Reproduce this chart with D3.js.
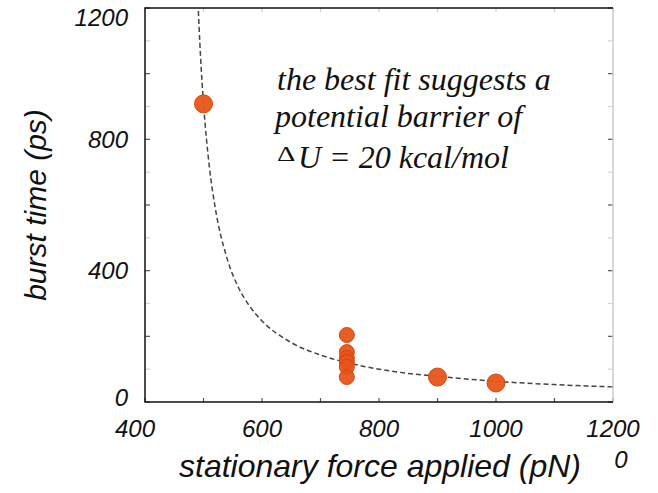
<!DOCTYPE html>
<html>
<head>
<meta charset="utf-8">
<script src="https://cdn.jsdelivr.net/npm/d3@7"></script>
<style>
  body { margin: 0; background: #fff; }
</style>
</head>
<body>
<script>
// measured points (pN, ps)
var forceVals = [500, 745, 745, 745, 745, 745, 745, 900, 1000];
var burstVals = [908, 204, 152, 134, 122, 107, 76, 76, 58];

// best fit curve
var fitForce = [490, 495, 500, 510, 520, 540, 560, 580, 600, 650, 700, 750, 800, 850, 900, 1000, 1100, 1200];
var fitBurst = [1240, 1050, 909, 717, 592, 439, 348, 289, 247, 181, 143, 118, 100, 87, 78, 63, 53, 46];

var xTickVals = [400, 500, 600, 700, 800, 900, 1000, 1100, 1200];
var xLabelVals = [400, 600, 800, 1000, 1200];
var yTickVals = [0, 100, 200, 300, 400, 500, 600, 700, 800, 900, 1000, 1100, 1200];
var yLabelVals = [0, 400, 800, 1200];

var width = 658, height = 493;
var pLeft = 145, pRight = 613, pTop = 8, pBottom = 402;
var sans = "'Liberation Sans', Arial, Helvetica, sans-serif";
var serif = "'Liberation Serif', 'Times New Roman', serif";

var svg = d3.select("body").append("svg").attr("width", width).attr("height", height);

var x = d3.scaleLinear().domain([400, 1200]).range([pLeft, pRight]);
var y = d3.scaleLinear().domain([0, 1200]).range([pBottom, pTop]);

// clip for the fit line
svg.append("clipPath").attr("id", "plotclip")
   .append("rect").attr("x", pLeft).attr("y", pTop).attr("width", pRight - pLeft).attr("height", pBottom - pTop);

// ticks (inward) on all four sides
var isMajorY = function(v) { return v % 200 === 0; };
yTickVals.forEach(function(v) {
    var col = isMajorY(v) ? "#555" : "#d4d4d4";
    svg.append("line").attr("x1", pLeft).attr("x2", pLeft + 5).attr("y1", y(v)).attr("y2", y(v))
       .style("stroke", col).style("stroke-width", 1.2);
    svg.append("line").attr("x1", pRight - 5).attr("x2", pRight).attr("y1", y(v)).attr("y2", y(v))
       .style("stroke", col).style("stroke-width", 1.2);
});
xTickVals.forEach(function(v) {
    svg.append("line").attr("x1", x(v)).attr("x2", x(v)).attr("y1", pBottom).attr("y2", pBottom - 4)
       .style("stroke", "#555").style("stroke-width", 1.2);
    svg.append("line").attr("x1", x(v)).attr("x2", x(v)).attr("y1", pTop).attr("y2", pTop + 4)
       .style("stroke", "#ccc").style("stroke-width", 1.2);
});

// frame
svg.append("line").attr("x1", pRight).attr("x2", pRight).attr("y1", pTop).attr("y2", pBottom)
   .style("stroke", "#ccc").style("stroke-width", 1.5);
svg.append("path")
   .attr("d", "M" + pRight + "," + pTop + "H" + pLeft + "V" + pBottom + "H" + pRight)
   .style("fill", "none").style("stroke", "#111").style("stroke-width", 1.5);

// fit line
var line = d3.line().x(function(d) { return x(d[0]); }).y(function(d) { return y(d[1]); })
             .curve(d3.curveMonotoneX);
svg.append("path")
   .datum(d3.zip(fitForce, fitBurst))
   .attr("clip-path", "url(#plotclip)")
   .attr("d", line)
   .style("fill", "none").style("stroke", "#444").style("stroke-width", 1.5)
   .style("stroke-dasharray", "5,3");

// points
svg.selectAll("circle.pt").data(d3.zip(forceVals, burstVals)).enter()
   .append("circle").attr("class", "pt")
   .attr("cx", function(d) { return x(d[0]); })
   .attr("cy", function(d) { return y(d[1]); })
   .attr("r", function(d) { return d[0] === 745 ? 7.5 : 9; })
   .style("fill", "#e8541a").style("stroke", "#d24810").style("stroke-width", 1)
   .style("fill-opacity", 0.95);

// tick labels
yLabelVals.forEach(function(v) {
    var yy = Math.min(Math.max(y(v), pTop + 10), pBottom - 4);
    svg.append("text").text(v).attr("x", pLeft - 17).attr("y", yy).attr("dy", "0.35em")
       .attr("text-anchor", "end").style("font-family", sans).style("font-size", "24px")
       .style("font-style", "italic").style("fill", "#111");
});
xLabelVals.forEach(function(v) {
    var xx = v === 400 ? x(v) - 10 : x(v);
    svg.append("text").text(v).attr("x", xx).attr("y", 437)
       .attr("text-anchor", "middle").style("font-family", sans).style("font-size", "24px")
       .style("font-style", "italic").style("fill", "#111");
});
svg.append("text").text("0").attr("x", x(1200) + 8).attr("y", 468)
   .attr("text-anchor", "middle").style("font-family", sans).style("font-size", "24px")
   .style("font-style", "italic").style("fill", "#111");

// axis titles
svg.append("text").text("stationary force applied (pN)").attr("x", 380).attr("y", 477)
   .attr("text-anchor", "middle").style("font-family", sans).style("font-size", "32px")
   .style("font-style", "italic").style("fill", "#111");
svg.append("text").text("burst time (ps)")
   .attr("transform", "translate(46,205) rotate(-90)")
   .attr("text-anchor", "middle").style("font-family", sans).style("font-size", "30px")
   .style("font-style", "italic").style("fill", "#111");

// annotation
svg.append("text").text("the best fit suggests a").attr("x", 277).attr("y", 90)
   .style("font-family", serif).style("font-size", "32px").style("font-style", "italic").style("fill", "#111");
svg.append("text").text("potential barrier of").attr("x", 275).attr("y", 127)
   .style("font-family", serif).style("font-size", "32px").style("font-style", "italic").style("fill", "#111");
svg.append("text").text("\u0394").attr("transform", "translate(277,161) scale(1.3,1)")
   .style("font-family", serif).style("font-size", "22px").style("fill", "#111");
svg.append("text").text("U = 20 kcal/mol").attr("x", 298).attr("y", 168)
   .style("font-family", serif).style("font-size", "32px").style("font-style", "italic").style("fill", "#111");
</script>
</body>
</html>
